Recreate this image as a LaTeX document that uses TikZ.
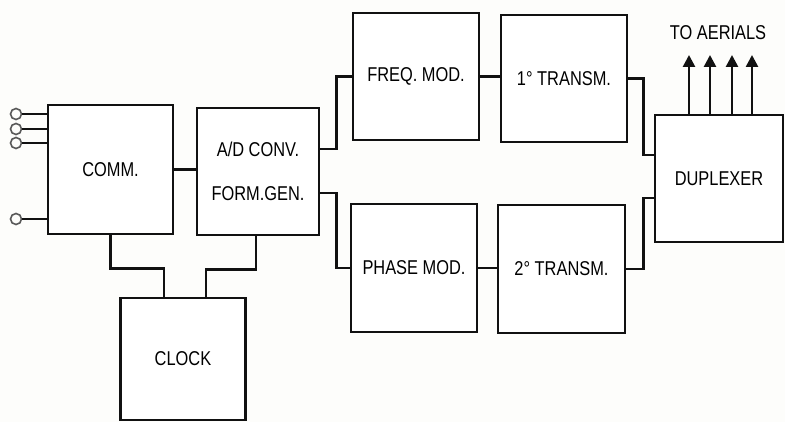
\documentclass[tikz,border=0pt]{standalone}
\usepackage{fontspec}
\setmainfont{Liberation Sans}[FakeStretch=0.82]
\usetikzlibrary{arrows.meta,calc}
\definecolor{inkLine}{HTML}{111111}
\definecolor{paperBg}{HTML}{FDFDFB}
\tikzset{
  block/.style={draw=inkLine, line width=2.6pt, fill=white, inner sep=0pt,
    font=\fontsize{20}{23}\selectfont},
  wire/.style={draw=inkLine, line width=2.6pt},
  terminal/.style={circle, draw=inkLine!70, line width=1.6pt, minimum size=11pt, inner sep=0pt},
  aerial/.style={wire, -{Triangle[width=12pt,length=12pt]}}
}

\begin{document}
\begin{tikzpicture}[x=1pt, y=-1pt, font=\fontsize{20}{23}\selectfont]
\useasboundingbox[fill=paperBg] (0,0) rectangle (785,422);

% Blocks of the transmitter chain.
\node[block, minimum width=125pt, minimum height=129pt] (comm) at (110.5,169.5) {COMM.};
\node[block, minimum width=122pt, minimum height=127pt, align=center] (conv) at (258,171.5)
  {A/D CONV.\\[21pt]FORM.GEN.};
\node[block, minimum width=126pt, minimum height=127pt] (freq) at (416,76.5) {FREQ. MOD.};
\node[block, minimum width=126pt, minimum height=127pt] (txone) at (564,78.5) {1° TRANSM.};
\node[block, minimum width=126pt, minimum height=128pt] (phase) at (414,268) {PHASE MOD.};
\node[block, minimum width=127pt, minimum height=128pt] (txtwo) at (561.5,269) {2° TRANSM.};
\node[block, minimum width=128pt, minimum height=127pt] (dup) at (719,178.5) {DUPLEXER};
\node[block, minimum width=125pt, minimum height=122pt] (clock) at (183,359) {CLOCK};

% Input terminals of the commutator.
\foreach \y [count=\i] in {114,129,143,219} {
  \node[terminal] (in\i) at (16,\y) {};
  \draw[wire, line width=1.8pt] (in\i.east) -- (in\i.east -| comm.west);
}

% Signal path.
\draw[wire] (comm.east) -- (comm.east -| conv.west);
\draw[wire] ([yshift=22.5pt]conv.east) -- ++(16,0) |- (freq.west);
\draw[wire] ([yshift=-21.5pt]conv.east) -- ++(16,0) |- (phase.west);
\draw[wire] (freq.east) -- (freq.east -| txone.west);
\draw[wire] (phase.east) -- (phase.east -| txtwo.west);
\draw[wire] (txone.east) -- ++(15,0) |- ([yshift=23.5pt]dup.west);
\draw[wire] (txtwo.east) -- ++(17,0) |- ([yshift=-19.5pt]dup.west);

% Clock distribution.
\draw[wire] (comm.south) -- ++(0,33) -| ([xshift=-19pt]clock.north);
\draw[wire] ([xshift=-2pt]conv.south) -- ++(0,33) -| ([xshift=23pt]clock.north);

% Outputs to the aerials.
\foreach \x [count=\i] in {689,710,732,752} {
  \coordinate (aer\i) at (\x,55);
  \draw[aerial] (dup.north -| aer\i) -- (aer\i);
}
\node (aerlabel) at (718,33) {TO AERIALS};

\end{tikzpicture}
\end{document}
